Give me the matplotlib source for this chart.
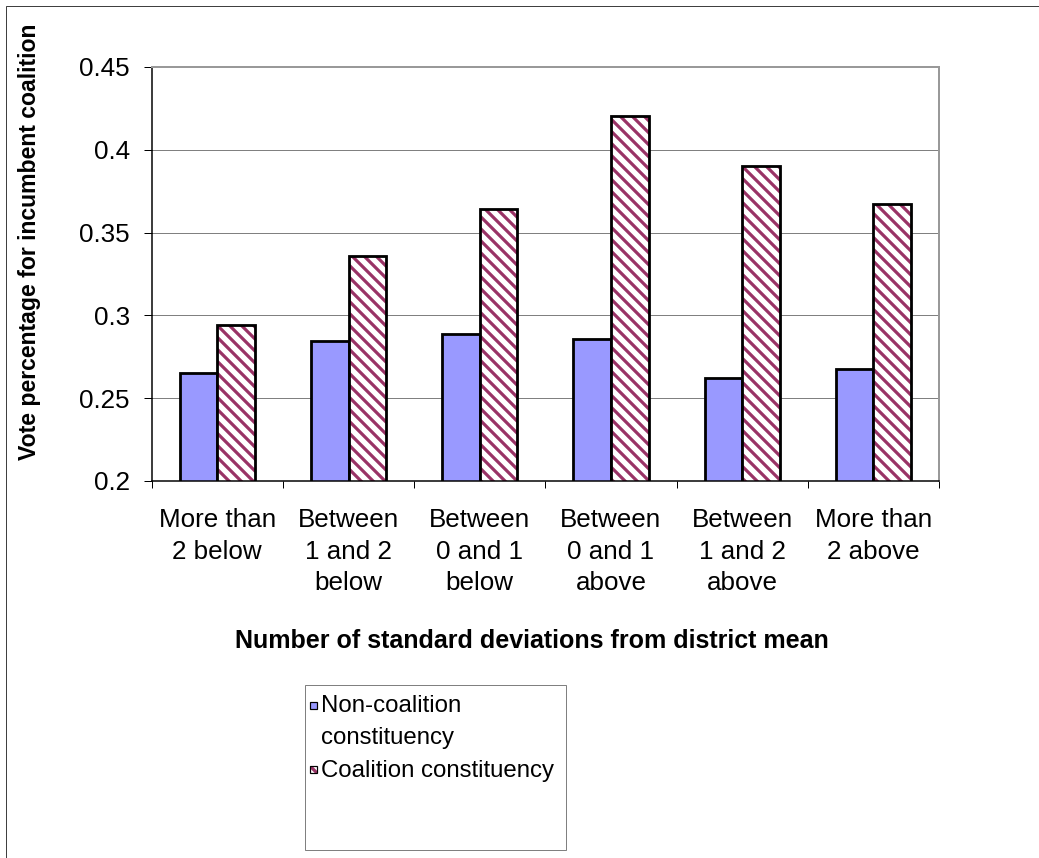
import numpy as np
import matplotlib
matplotlib.use('Agg')
import matplotlib.pyplot as plt
from matplotlib.patches import Rectangle

categories = ['More than\n2 below', 'Between\n1 and 2\nbelow', 'Between\n0 and 1\nbelow',
              'Between\n0 and 1\nabove', 'Between\n1 and 2\nabove', 'More than\n2 above']
non_coalition = [0.265, 0.2845, 0.2886, 0.2857, 0.2624, 0.2674]
coalition = [0.294, 0.336, 0.3644, 0.4204, 0.3902, 0.3673]
y_ticks = [0.2, 0.25, 0.3, 0.35, 0.4, 0.45]
y_tick_labels = ['0.2', '0.25', '0.3', '0.35', '0.4', '0.45']
legend_labels = ['Non-coalition\nconstituency', 'Coalition constituency']

W, H = 1039, 858
DPI = 72
plt.rcParams['font.family'] = ['Liberation Sans', 'DejaVu Sans']
plt.rcParams['hatch.linewidth'] = 3.2

def fx(px):
          return px / W

def fy(py):
          return 1 - py / H

blue = '#9999FF'
maroon = '#993366'

fig = plt.figure(figsize=(W / DPI, H / DPI), dpi=DPI)
ax = fig.add_axes([fx(151.7), fy(481), fx(939) - fx(151.7), fy(67) - fy(481)])

x = np.arange(len(categories))
bw = 0.287
ax.bar(x - bw / 2, non_coalition, bw, color=blue, edgecolor='black', linewidth=2.8, zorder=3)
ax.bar(x + bw / 2, coalition, bw, color='white', edgecolor=maroon, hatch='\\\\', linewidth=0, zorder=3)
ax.bar(x + bw / 2, coalition, bw, fill=False, edgecolor='black', linewidth=2.8, zorder=4)

ax.set_xlim(-0.5, len(categories) - 0.5)
ax.set_ylim(0.2, 0.45)
ax.set_yticks(y_ticks)
ax.set_yticklabels(y_tick_labels, fontsize=26)
ax.tick_params(axis='y', length=8, width=1, pad=14)

ax.set_xticks(np.arange(len(categories) + 1) - 0.5)
ax.set_xticklabels([])
ax.set_xticks(x, minor=True)
ax.set_xticklabels(categories, minor=True, fontsize=26, linespacing=1.4)
ax.tick_params(axis='x', which='major', length=7, width=1)
ax.tick_params(axis='x', which='minor', length=0, pad=27)

ax.grid(axis='y', color='#808080', linewidth=1, zorder=0)
ax.set_axisbelow(True)
for s in ['top', 'right']:
          ax.spines[s].set_color('#999999')
          ax.spines[s].set_linewidth(2)
for s in ['left', 'bottom']:
          ax.spines[s].set_color('black')
          ax.spines[s].set_linewidth(1.5)
ax.spines['bottom'].set_zorder(5)

fig.text(fx(30), fy(242), 'Vote percentage for incumbent coalition', rotation=90,
         fontsize=23, fontweight='bold', ha='center', va='center')
fig.text(fx(532), fy(641), 'Number of standard deviations from district mean',
         fontsize=25, fontweight='bold', ha='center', va='center')

# legend box drawn by hand to match the layout
fig.patches.append(Rectangle((fx(305), fy(850)), fx(566) - fx(305), fy(685) - fy(850),
                             transform=fig.transFigure, fill=False, edgecolor='#808080', linewidth=1))
fig.patches.append(Rectangle((fx(310), fy(709)), 7 / W, 7 / H, transform=fig.transFigure,
                             facecolor=blue, edgecolor='black', linewidth=1.2))
fig.patches.append(Rectangle((fx(310), fy(773)), 7 / W, 7 / H, transform=fig.transFigure,
                             facecolor='white', edgecolor=maroon, hatch='\\\\', linewidth=0))
fig.patches.append(Rectangle((fx(310), fy(773)), 7 / W, 7 / H, transform=fig.transFigure,
                             fill=False, edgecolor='black', linewidth=1.2))
first, second = legend_labels[0].split('\n')
fig.text(fx(321), fy(706), first, fontsize=24, va='center')
fig.text(fx(321), fy(738), second, fontsize=24, va='center')
fig.text(fx(321), fy(771), legend_labels[1], fontsize=24, va='center')

# outer frame of the chart object
fig.patches.append(Rectangle((fx(6), -0.2), 2, fy(6) + 0.2, transform=fig.transFigure,
                             fill=False, edgecolor='#404040', linewidth=1))

fig.savefig('out.png', dpi=DPI)
